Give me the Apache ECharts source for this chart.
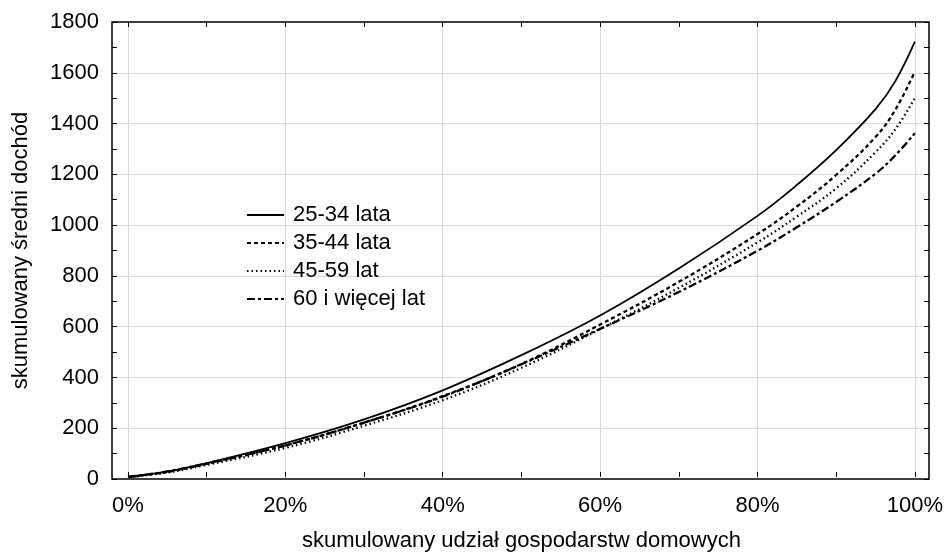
<!DOCTYPE html>
<html>
<head>
<meta charset="utf-8">
<script src="https://cdn.jsdelivr.net/npm/echarts@6/dist/echarts.min.js"></script>
<style>
  html, body { margin: 0; padding: 0; background: #fff; }
  #chart { width: 946px; height: 557px; }
</style>
</head>
<body>
<div id="chart"></div>
<script>
// skumulowany udzial gospodarstw (%)
var shares = [0, 5, 10, 20, 30, 40, 50, 60, 70, 80, 85, 90, 95, 97.5, 100];
var names = ['25-34 lata', '35-44 lata', '45-59 lat', '60 i więcej lat'];
var age25 = [0, 22, 55, 134, 228, 343, 482, 639, 825, 1033, 1155, 1293, 1455, 1565, 1722];
var age35 = [0, 20, 52, 125, 215, 320, 447, 603, 772, 961, 1070, 1195, 1345, 1452, 1604];
var age45 = [0, 18, 48, 115, 203, 304, 432, 585, 748, 928, 1030, 1142, 1285, 1375, 1499];
var age60 = [0, 22, 54, 125, 215, 318, 446, 586, 732, 895, 988, 1088, 1200, 1272, 1360];
var xTicks = { min: 0, max: 100, step: 20 };
var yTicks = { min: 0, max: 1800, step: 200 };

var font = 'Liberation Sans, Arial, sans-serif';
var gridGrey = '#dadada';

function pairs(vals) {
    return shares.map(function (s, i) { return [s, vals[i]]; });
}

var styles = [
    { type: 'solid', width: 1.8 },
    { type: [4, 3], width: 2.3 },
    { type: [1.5, 3], width: 2.3 },
    { type: [8, 3, 3, 3], width: 2.3 }
];
var allVals = [age25, age35, age45, age60];

var series = names.map(function (n, i) {
    return {
        name: n,
        type: 'line',
        xAxisIndex: 1,
        yAxisIndex: 2,
        data: pairs(allVals[i]),
        smooth: 0.4,
        symbol: 'none',
        lineStyle: { color: '#000', width: styles[i].width, type: styles[i].type },
        itemStyle: { color: '#000' },
        z: 5
    };
});

var tickStyle = { show: true, inside: true, length: 5, lineStyle: { color: '#000', width: 1 } };
var minorStyle = { show: true, splitNumber: 2, length: 5, lineStyle: { color: '#000', width: 1 } };

var option = {
    animation: false,
    backgroundColor: '#fff',
    textStyle: { fontFamily: font, color: '#000' },
    grid: [
        { left: 112, right: 17, top: 22, bottom: 78, show: true, borderColor: '#000', borderWidth: 1.5 },
        { left: 128, right: 31, top: 22, bottom: 78 }
    ],
    legend: {
        left: 246,
        top: 204,
        padding: 0,
        orient: 'vertical',
        itemWidth: 37,
        itemHeight: 12,
        itemGap: 6,
        itemStyle: { opacity: 0 },
        textStyle: { fontFamily: font, fontSize: 22, color: '#000', padding: [0, 0, 0, 4] },
        data: names
    },
    xAxis: [
        { gridIndex: 0, type: 'value', show: false, min: 0, max: 1 },
        {
            gridIndex: 1, type: 'value', position: 'bottom',
            min: xTicks.min, max: xTicks.max, interval: xTicks.step,
            name: 'skumulowany udział gospodarstw domowych',
            nameLocation: 'middle', nameGap: 53,
            nameTextStyle: { fontFamily: font, fontSize: 22, color: '#000' },
            axisLine: { show: false },
            axisTick: tickStyle,
            minorTick: minorStyle,
            axisLabel: { fontFamily: font, fontSize: 22, color: '#000', margin: 18, formatter: '{value}%' },
            splitLine: { show: true, lineStyle: { color: gridGrey, width: 1 } }
        },
        {
            gridIndex: 1, type: 'value', position: 'top',
            min: xTicks.min, max: xTicks.max, interval: xTicks.step,
            axisLine: { show: false },
            axisTick: tickStyle,
            minorTick: minorStyle,
            axisLabel: { show: false },
            splitLine: { show: false }
        }
    ],
    yAxis: [
        {
            gridIndex: 0, type: 'value', position: 'left',
            min: yTicks.min, max: yTicks.max, interval: yTicks.step,
            name: 'skumulowany średni dochód',
            nameLocation: 'middle', nameGap: 80,
            nameTextStyle: { fontFamily: font, fontSize: 22, color: '#000' },
            axisLine: { show: false },
            axisTick: tickStyle,
            minorTick: minorStyle,
            axisLabel: {
                fontFamily: font, fontSize: 22, color: '#000', margin: 13,
                formatter: function (v) { return String(v); }
            },
            splitLine: { show: true, showMinLine: false, showMaxLine: false, lineStyle: { color: gridGrey, width: 1 } }
        },
        {
            gridIndex: 0, type: 'value', position: 'right',
            min: yTicks.min, max: yTicks.max, interval: yTicks.step,
            axisLine: { show: false },
            axisTick: tickStyle,
            minorTick: minorStyle,
            axisLabel: { show: false },
            splitLine: { show: false }
        },
        { gridIndex: 1, type: 'value', show: false, min: yTicks.min, max: yTicks.max }
    ],
    series: series
};

var chart = echarts.init(document.getElementById('chart'), null, { renderer: 'canvas' });
chart.setOption(option);
</script>
</body>
</html>
